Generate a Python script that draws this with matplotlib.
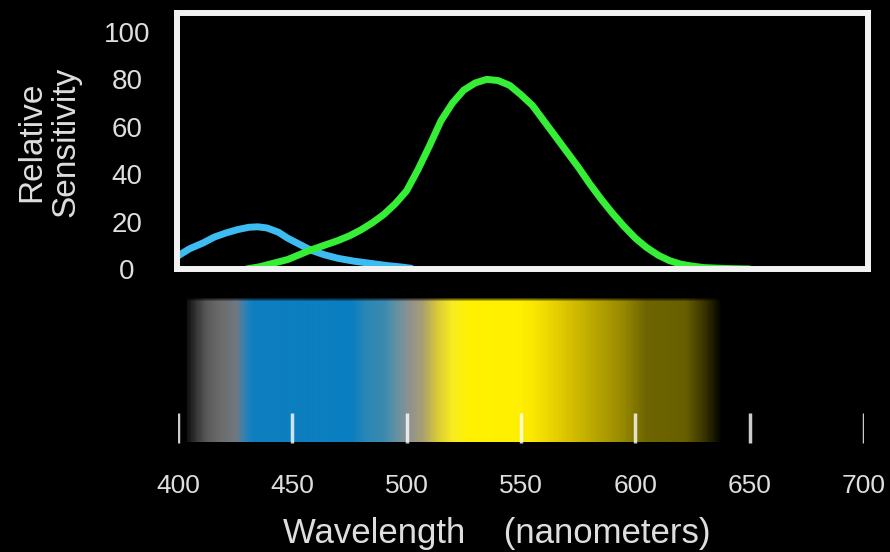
import numpy as np
import matplotlib
matplotlib.use("Agg")
import matplotlib.pyplot as plt
from matplotlib.colors import LinearSegmentedColormap

plt.rcParams['font.family'] = ['Liberation Sans', 'DejaVu Sans']

# Cone sensitivity curves
blue_nm = [400, 405, 411, 416, 421, 426, 431, 435, 439, 444, 448, 453, 458, 464,
           470, 477, 484, 491, 498, 502]
blue_val = [5.5, 8.5, 11, 13.5, 15.2, 16.6, 17.6, 17.8, 17.3, 15.5, 13, 10.5, 8, 6,
            4.5, 3.3, 2.4, 1.5, 0.8, 0.3]

green_nm = [430, 436, 442, 448, 453, 458, 464, 470, 475, 480, 485, 490, 495, 500,
            505, 510, 515, 520, 525, 530, 535, 540, 545, 550, 555, 560, 565, 570,
            575, 580, 585, 590, 595, 600, 605, 610, 615, 620, 625, 630, 640, 650]
green_val = [0, 1, 2.5, 4, 6, 8, 10, 12, 14, 16.5, 19.5, 23, 27.5, 33,
             42, 52, 62.5, 70, 75.5, 78.5, 80, 79.5, 77.5, 73.5, 69, 62.5, 56, 49.5,
             43, 36, 29.5, 23.5, 18, 13, 9, 5.8, 3.5, 2, 1.2, 0.6, 0.2, 0]

y_ticks = [0, 20, 40, 60, 80, 100]
x_ticks = [400, 450, 500, 550, 600, 650, 700]

# Colour band under the chart (wavelength, colour)
band_nm = [404, 407, 412, 418, 425, 429, 432, 476, 482, 490, 496, 501, 507, 513,
           520, 527, 548, 555, 565, 580, 595, 605, 622, 630, 636, 638]
band_col = ['#141414', '#333333', '#5a5a5a', '#6c6c6c', '#707880', '#2f82b8',
            '#0e7fc0', '#0a7fc0', '#2a87b5', '#3a8ab0', '#6a92a0', '#909090',
            '#a8a070', '#d8c838', '#f8ec20', '#fff200', '#fff000', '#fbe800',
            '#e6d000', '#c0ac00', '#968800', '#6e6400', '#686000',
            '#3c3600', '#101000', '#000000']

W, H = 890, 552
text_col = '#dedede'


def px_rect(l, t, r, b):
    return [l / W, 1 - b / H, (r - l) / W, (b - t) / H]


fig = plt.figure(figsize=(W / 100, H / 100), dpi=100)
fig.set_facecolor('black')

# top panel: sensitivity curves
ax1 = fig.add_axes(px_rect(177, 13, 868, 269))
ax1.set_facecolor('black')
ax1.plot(blue_nm, blue_val, color='#3cbcf0', lw=5, solid_capstyle='round')
ax1.plot(green_nm, green_val, color='#36ee36', lw=5, solid_capstyle='round')
ax1.set_xlim(399.6, 701.7)
ax1.set_ylim(0, 108)
ax1.set_xticks([])
ax1.set_yticks(y_ticks)
ax1.tick_params(axis='y', length=0, pad=36, labelsize=20, colors=text_col)
for lab in ax1.get_yticklabels():
    lab.set_horizontalalignment('center')
for sp in ax1.spines.values():
    sp.set_color('#f2f2f2')
    sp.set_linewidth(4.3)

fig.text(49 / W, 1 - 142 / H, "Relative\nSensitivity", rotation=90,
         ha='center', va='center', fontsize=24, color=text_col, linespacing=1.15)

# bottom panel: colour band and wavelength scale
ax2 = fig.add_axes(px_rect(178, 297, 864, 446))
ax2.set_facecolor('black')
ax2.set_xlim(400, 700)
ax2.set_ylim(0, 1)

pos = (np.array(band_nm) - band_nm[0]) / (band_nm[-1] - band_nm[0])
cmap = LinearSegmentedColormap.from_list('band', list(zip(pos, band_col)))
grad = cmap(np.linspace(0, 1, 600))
rows = 144
fade = np.clip((np.arange(rows) + 1) / 4.0, 0, 1)[:, None]
img = np.repeat(grad[None, :, :], rows, axis=0)
img[:, :, :3] *= fade[:, :, None]
ax2.imshow(img, extent=(band_nm[0], band_nm[-1], 0.027, 0.993), aspect='auto',
           interpolation='bilinear')

ax2.vlines(x_ticks, 0.02, 0.22, color='white', alpha=0.8, lw=2.5)
ax2.set_xticks(x_ticks)
ax2.set_yticks([])
ax2.tick_params(axis='x', length=0, pad=20, labelsize=19, colors=text_col)
for sp in ax2.spines.values():
    sp.set_visible(False)

fig.text(497 / W, 1 - 543 / H, "Wavelength    (nanometers)", ha='center',
         va='baseline', fontsize=25, color=text_col)

fig.savefig("out.png", dpi=100, facecolor='black')
